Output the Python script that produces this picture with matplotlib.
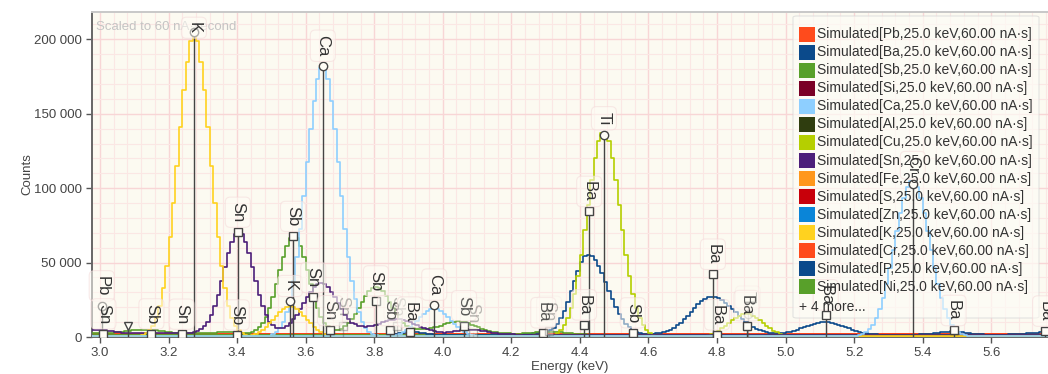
import numpy as np
import matplotlib
matplotlib.use("Agg")
import matplotlib.pyplot as plt
from matplotlib.patches import Rectangle, FancyBboxPatch
from matplotlib.ticker import MultipleLocator, FuncFormatter

plt.rcParams["font.family"] = ["Liberation Sans", "DejaVu Sans"]

# -----------------------------
# Spectrum data (10 eV channels, counts in thousands)
# each series: first channel centre, channel counts, level outside that span
# -----------------------------
E_FIRST, E_LAST, CHANNEL = 2.975, 5.765, 0.01

k_start = 3.125
k_counts = [1.2, 2.4, 4.5, 7.7, 13, 21, 33, 48, 67, 90, 115, 141, 166, 185, 199, 203,
            199, 185, 166, 141, 115, 90, 67, 48, 33, 21, 13, 7.7, 4.5, 2.4, 1.2,
            0.8, 1.3, 2.1, 3.3, 4.8, 6.8, 9.1, 11.6, 14.3, 16.7, 18.7, 20, 20.5, 20,
            18.7, 16.7, 14.3, 11.6, 9.1, 6.8, 4.8, 3.3, 2.1, 1.3, 0.8]
k_floor = 0.5

ca_start = 3.505
ca_counts = [1.8, 3.5, 6.2, 10.4, 16.7, 25.7, 37.9, 53.7, 72.8, 94.5, 117.4, 139.6, 158.9,
             173.3, 181, 181, 173.3, 158.9, 139.6, 117.4, 94.5, 72.8, 53.7, 37.9, 25.7,
             16.7, 10.4, 6.2, 3.5, 1.8,
             1.2, 0.9, 0.8, 0.8, 0.8,
             0.8, 1.4, 2.2, 3.3, 4.8, 6.6, 8.7, 11, 13.4, 15.6, 17.4, 18.6, 19, 18.6,
             17.4, 15.6, 13.4, 11, 8.7, 6.6, 4.8, 3.3, 2.2, 1.4, 0.8]
ca_floor = 0.5

sn_start = 2.975
sn_counts = [4.8, 5, 5, 4.9, 4.7, 4.3, 3.9, 3.5, 3.1, 2.8, 2.6, 2.5, 2.5, 2.5,
             2.5, 2.5, 2.5, 2.5, 2.5, 2.5, 2.5, 2.5, 2.5, 2.5, 2.5, 2.6, 2.6, 2.7, 2.8, 3.0,
             3.2, 3.9, 5.1, 7.1, 10.2, 14.6, 20.7, 28.4, 37.4, 47, 56.2, 63.9, 69.2, 71,
             69.2, 63.9, 56.2, 47, 37.4, 28.4, 20.7, 14.6, 10.2,
             7.8, 6.2, 5.8, 6.2, 7.3, 9.1, 11.8, 15.1, 18.8, 22.8, 26.8, 30.5, 33.4, 35.3,
             36, 35.3, 33.4, 30.5, 26.8, 22.8, 18.8, 15.1, 11.8, 9.1,
             8.9, 7.7, 7.2, 7, 7.2, 7.6, 8.2, 8.9, 9.8, 10.6, 11.3, 11.7, 11.9, 11.8,
             11.4, 10.7, 9.8, 8.9, 7.9, 6.9, 6, 5.2, 4.6, 4,
             3.5, 3.2, 3.0, 3.1, 3.3, 3.7, 4.1, 4.5, 4.8, 5, 5, 4.8, 4.5, 4.1, 3.7, 3.3,
             2.9, 2.6, 2.3, 2.1, 1.9, 1.8, 1.7]
sn_floor = 1.6

sb_start = 2.975
sb_counts = [2.6, 2.6, 2.7, 2.7, 2.8, 2.9, 3, 3.2, 3.4,
             3.6, 3.8, 4.1, 4.4, 4.7, 4.9, 5, 5, 4.9, 4.7, 4.4, 4.1, 3.8, 3.5, 3.2, 3, 2.8, 2.7,
             2.6, 2.6, 2.6, 2.6, 2.6, 2.6, 2.6, 2.7, 2.8, 3, 3.2, 3.4, 3.5, 3.5, 3.4, 3.2,
             3, 2.8, 2.8,
             2.9, 3.4, 4.5, 6.4, 9.4, 13.7, 19.6, 26.9, 35.6, 44.8, 53.7, 61.2, 66.2, 68,
             66.2, 61.2, 53.7, 44.8, 35.6, 26.9, 19.6, 13.7, 9.4,
             7.2, 5.6, 4.9, 5.0, 5.7, 7.1, 9.3, 12.2, 15.7, 19.7, 23.7, 27.5, 30.7, 32.8,
             33.5, 32.8, 30.7, 27.5, 23.7, 19.7, 15.7, 12.2, 9.3, 7.1,
             6.5, 5.8, 5.3, 5.2, 5.3, 5.5, 5.9, 6.4, 7.0, 7.7, 8.5, 9.3, 9.9, 10.3, 10.5,
             10.3, 9.9, 9.2, 8.3, 7.4, 6.4, 5.5, 4.7, 4.1, 3.6, 3.2, 2.9,
             2.7, 2.5, 2.4, 2.3, 2.3, 2.3, 2.4, 2.5, 2.7, 2.9, 3.1, 3.3, 3.5, 3.6, 3.6,
             3.5, 3.3, 3.1, 2.9, 2.6, 2.4, 2.2, 2, 1.8, 1.7, 1.6]
sb_floor = 1.3

ti_start = 4.325
ti_counts = [1.4, 2.6, 4.7, 7.9, 12.7, 19.5, 28.7, 40.7, 55.2, 71.6, 89, 105.8, 120.5,
             131.4, 137.3, 137.3, 131.4, 120.5, 105.8, 89, 71.6, 55.2, 40.7, 28.7, 19.5,
             12.7, 7.9, 4.7, 2.6, 1.4,
             1.0, 0.9, 0.8, 0.8, 0.8, 0.8, 0.8, 0.8, 0.8, 0.8, 0.8, 0.8, 0.8, 0.8,
             0.9, 1.4, 2.1, 3.1, 4.3, 5.8, 7.5, 9.4, 11.3, 12.9, 14.3, 15.2, 15.5, 15.2,
             14.3, 12.9, 11.3, 9.4, 7.5, 5.8, 4.3, 3.1, 2.1, 1.4, 0.9]
ti_floor = 0.7

ba_start = 3.845
ba_counts = [1.2, 1.5, 1.9, 2.4, 2.8, 3.1, 3.3, 3.3, 3.1, 2.8, 2.4, 2.0, 1.7, 1.5,
             1.4, 1.4, 1.4, 1.4, 1.4, 1.4, 1.4, 1.4, 1.4, 1.4, 1.4, 1.4, 1.4, 1.4, 1.4,
             1.4, 1.4, 1.4, 1.4, 1.4, 1.4, 1.4, 1.4, 1.4,
             1.6, 1.8, 2.0, 2.2, 2.4, 2.5, 2.6, 3.0, 3.5, 4.5, 6.2, 8.8, 12.7, 17.6, 23.7,
             30.6, 37.9, 44.6, 50.3, 54.1, 55.4, 54.5, 51.9, 47.9, 42.9, 37.1, 31.2, 25.4,
             20.1, 15.5, 11.8, 8.7, 6.4, 4.7, 3.5, 2.7, 2.2, 1.9, 1.8,
             2.1, 2.4, 2.7, 3.2, 3.9, 4.9, 6.2, 7.8, 9.7, 11.9, 14.4, 16.9, 19.5, 21.9,
             24.0, 25.6, 26.6, 27.0, 26.7, 25.9, 24.6, 22.9, 20.9, 18.8, 16.5, 14.2, 12.1,
             10.1, 8.3, 6.8, 5.5, 4.5, 3.7, 3.1, 2.7,
             2.6, 2.6, 2.6, 2.9, 3.2, 3.5, 4.2, 4.9, 5.8, 6.6, 7.5, 8.3, 9.0, 9.5, 9.9,
             10.0, 9.9, 9.5, 9.0, 8.3, 7.5, 6.6, 5.8, 4.9, 4.2, 3.5, 3.0, 2.6, 2.2, 2.0,
             1.8, 1.6,
             1.5, 1.4, 1.4, 1.4, 1.4, 1.4, 1.4, 1.4, 1.4,
             1.5, 1.6, 1.7, 1.9, 2.1, 2.3, 2.6, 2.9, 3.2, 3.4, 3.6, 3.7, 3.6, 3.4, 3.2,
             2.9, 2.6, 2.3, 2.1, 1.9, 1.7, 1.6, 1.5,
             1.5, 1.5, 1.5, 1.6, 1.6, 1.7, 1.8, 1.9, 2.0, 2.2, 2.4, 2.6, 2.8, 3.0, 3.2,
             3.4, 3.6]
ba_floor = 1.0

cr_start = 5.215
cr_counts = [1.1, 1.9, 3.2, 5.3, 8.3, 12.6, 18.5, 26.1, 35.6, 46.6, 58.7, 71.2, 83, 93.1,
             100.6, 104.5, 104.5, 100.6, 93.1, 83, 71.2, 58.7, 46.6, 35.6, 26.1, 18.5,
             12.6, 8.3, 5.3, 3.2, 1.9, 1.1]
cr_floor = 0.5

# elements with nothing above the continuum in this window
flat_elements = ["Pb", "Si", "Al", "Cu", "Fe", "S", "Zn", "Cl", "P", "Ni"]
flat_levels = [2.2, 0.8, 0.6, 0.9, 1.4, 1.7, 1.0, 2.0, 0.7, 1.1]

# -----------------------------
# KLM line markers
# -----------------------------
line_energy = [3.005, 3.010, 3.083, 3.150, 3.238, 3.274, 3.399, 3.402, 3.554, 3.563,
               3.622, 3.650, 3.671, 3.709, 3.805, 3.846, 3.865, 3.904, 3.975, 4.062,
               4.088, 4.293, 4.310, 4.412, 4.427, 4.470, 4.554, 4.788, 4.800, 4.886,
               4.890, 5.117, 5.371, 5.490, 5.757]
line_height = [21000, 2200, 7700, 2200, 2000, 205000, 1500, 70500, 24000, 67700,
               26700, 182000, 4400, 7700, 24400, 4400, 7700, 3300, 21500, 7700,
               2900, 2900, 4000, 8200, 84400, 136000, 2900, 42200, 1500, 7700,
               15500, 14900, 103000, 4400, 4000]
line_label = ["Pb", "Sn", "", "Sb", "Sn", "K", "Sb", "Sn", "K", "Sb",
              "Sn", "Ca", "Sn", "Sn", "Sb", "Sb", "Sb", "Ba", "Ca", "Sb",
              "Sn", "Ba", "Sn", "Ba", "Ba", "Ti", "Sb", "Ba", "Ba", "Ba",
              "Ti", "Ba", "Cr", "Ba", "Ba"]
line_marker = ["o", "s", "v", "s", "s", "o", "s", "s", "o", "s",
               "s", "o", "s", "s", "s", "s", "s", "s", "o", "s",
               "s", "s", "s", "s", "s", "o", "s", "s", "s", "s",
               "o", "s", "o", "s", "s"]
line_faded = [0, 0, 0, 0, 0, 0, 0, 0, 0, 0,
              0, 0, 0, 1, 0, 0, 1, 0, 0, 0,
              1, 0, 1, 0, 0, 0, 0, 0, 0, 0,
              1, 0, 0, 0, 0]

legend_elements = ["Pb", "Ba", "Sb", "Si", "Ca", "Al", "Cu", "Sn", "Fe", "S",
                   "Zn", "K", "Cr", "P", "Ni"]
hidden_count = 4

# -----------------------------
# Colours
# -----------------------------
palette = {"Pb": "#ff4b1c", "Ba": "#0b4a8b", "Sb": "#58a02a", "Si": "#7a0026",
           "Ca": "#8ecfff", "Al": "#2f3d0f", "Cu": "#b5cf00", "Sn": "#4c1f7a",
           "Fe": "#ff971c", "S": "#c8000a", "Zn": "#0a85d8", "K": "#ffd21f",
           "Cr": "#ff4b1c", "P": "#0b4a8b", "Ni": "#58a02a", "Cl": "#ff4b1c"}
peak_colors = {"K": "#ffd21f", "Ca": "#8ecfff", "Sn": "#4c1f7a", "Sb": "#58a02a",
               "Ti": "#b5cf00", "Ba": "#0b4a8b", "Cr": "#8ecfff"}

energy = np.round(np.arange(E_FIRST, E_LAST + CHANNEL / 2, CHANNEL), 3)


def spectrum(start, counts, floor):
    y = np.full(energy.size, floor, dtype=float)
    i0 = int(round((start - E_FIRST) / CHANNEL))
    y[i0:i0 + len(counts)] = counts
    return y * 1000


# -----------------------------
# Figure
# -----------------------------
W, H = 1048, 374
fig = plt.figure(figsize=(W / 100, H / 100), dpi=100)
ax = fig.add_axes([92 / W, (H - 337) / H, (W - 92) / W, 325 / H])
ax.set_facecolor("#fcfaf1")


def fx(px):
    return px / W


def fy(py):
    return 1 - py / H


# legend panel sits between the grid and the spectra
frame = FancyBboxPatch((fx(793), fy(318)), fx(1039) - fx(793), fy(16) - fy(318),
                       boxstyle="round,pad=0,rounding_size=0.004",
                       transform=fig.transFigure, fc="#fdfcf6", ec="#d8d8d8",
                       lw=0.8, alpha=0.7, zorder=1.5)
ax.add_artist(frame)

for name, level in zip(flat_elements, flat_levels):
    ax.step(energy, np.full(energy.size, level * 1000), where="mid",
            color=palette[name], lw=1.3, zorder=2)

peaks = [("Ba", ba_start, ba_counts, ba_floor),
         ("Sb", sb_start, sb_counts, sb_floor),
         ("Ca", ca_start, ca_counts, ca_floor),
         ("Ti", ti_start, ti_counts, ti_floor),
         ("Sn", sn_start, sn_counts, sn_floor),
         ("K", k_start, k_counts, k_floor),
         ("Cr", cr_start, cr_counts, cr_floor)]
for name, start, counts, floor in peaks:
    ax.step(energy, spectrum(start, counts, floor), where="mid",
            color=peak_colors[name], lw=1.2, zorder=3)

# KLM lines with rotated element labels
for e, h, lab, mk, faded in zip(line_energy, line_height, line_label,
                                line_marker, line_faded):
    a = 0.35 if faded else 1.0
    ax.plot([e, e], [0, h], color="#444444", lw=1.0, alpha=a, zorder=4)
    ax.plot(e, h, marker=mk, ms=6, mfc="#fffdf6", mec="#444444", mew=1.0,
            alpha=a, zorder=5)
    if not lab:
        continue
    near_top = h > 190000
    ax.annotate(lab, (e, h), xytext=(0, 3 if near_top else 7),
                textcoords="offset points", rotation=-90, ha="center",
                va="center" if near_top else "bottom", fontsize=12,
                color="#333333", alpha=a, zorder=6, annotation_clip=False,
                bbox=dict(boxstyle="round,pad=0.3", fc="#fffdf6", ec="#f4d9d9",
                          lw=0.8, alpha=0.55 * a))

ax.set_xlim(2.9767, 5.7655)
ax.set_ylim(0, 218400)

ax.xaxis.set_major_locator(MultipleLocator(0.2))
ax.xaxis.set_minor_locator(MultipleLocator(0.04))
ax.yaxis.set_major_locator(MultipleLocator(50000))
ax.yaxis.set_minor_locator(MultipleLocator(10000))
ax.xaxis.set_major_formatter(FuncFormatter(lambda v, p: f"{v:.1f}"))
ax.yaxis.set_major_formatter(FuncFormatter(lambda v, p: f"{int(v):,}".replace(",", " ")))

ax.set_axisbelow(True)
ax.grid(which="major", color="#f8d6d6", lw=1.0)
ax.grid(which="minor", color="#fbe7e4", lw=0.8)

ax.tick_params(which="major", direction="out", length=4, width=1, color="#555555",
               labelsize=9.5, labelcolor="#444444")
ax.tick_params(which="minor", length=0)
for side in ("left", "bottom"):
    ax.spines[side].set_color("#666666")
    ax.spines[side].set_linewidth(1.4)
ax.spines["top"].set_color("#c8c8c8")
ax.spines["top"].set_linewidth(1.4)
ax.spines["right"].set_visible(False)

ax.set_xlabel("Energy (keV)", fontsize=9.5, color="#444444", labelpad=1)
ax.set_ylabel("Counts", fontsize=9.5, color="#444444", labelpad=0)

ax.text(0.004, 0.955, "Scaled to 60 nA\u00b7second", transform=ax.transAxes,
        fontsize=9.5, color="#c4c4c4", va="center", ha="left", zorder=1)

# legend swatches and entries
row0, step = 34.3, 18.03
for i, name in enumerate(legend_elements):
    yc = row0 + i * step
    fig.add_artist(Rectangle((fx(799), fy(yc + 7.5)), fx(815) - fx(799), fy(yc - 7.5) - fy(yc + 7.5),
                             transform=fig.transFigure, fc=palette[name], ec="none", zorder=11))
    fig.text(fx(817), fy(yc), f"Simulated[{name},25.0 keV,60.00 nA\u00b7s]",
             fontsize=10, color="#333333", va="center", ha="left", zorder=12)
fig.text(fx(799), fy(row0 + len(legend_elements) * step + 2),
         f"+ {hidden_count} more...", fontsize=10, color="#333333",
         va="center", ha="left", zorder=12)

fig.savefig("out.png", dpi=100, facecolor="white")
